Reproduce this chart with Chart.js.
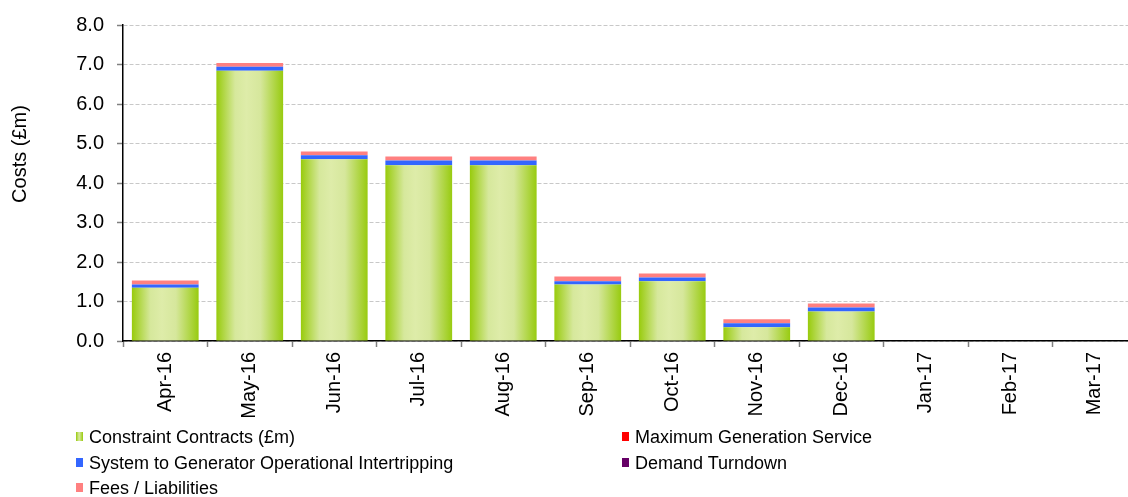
<!DOCTYPE html>
<html>
<head>
<meta charset="utf-8">
<script src="https://cdn.jsdelivr.net/npm/chart.js@4/dist/chart.umd.min.js"></script>
<style>
  html, body { margin: 0; padding: 0; background: #fff; overflow: hidden; width: 1128px; height: 497px; }
  #wrap { position: relative; width: 1128px; height: 497px; overflow: hidden; }
  canvas { position: absolute; left: 0; top: 0; }
  #legend { position: absolute; left: 0; top: 424px; width: 1128px; font-family: Arial, "Liberation Sans", sans-serif; font-size: 18px; color: #000; }
  .item { position: absolute; height: 26px; line-height: 26px; white-space: nowrap; }
  .mk { position: absolute; left: 0; top: 8px; width: 7px; height: 9px; }
  .tx { position: absolute; left: 13px; top: 0; }
</style>
</head>
<body>
<div id="wrap">
  <canvas id="c" width="1140" height="430"></canvas>
  <div id="legend"></div>
</div>
<script>
const categories = ['Apr-16','May-16','Jun-16','Jul-16','Aug-16','Sep-16','Oct-16','Nov-16','Dec-16','Jan-17','Feb-17','Mar-17'];
const constraintContracts = [1.35, 6.84, 4.60, 4.45, 4.45, 1.43, 1.51, 0.35, 0.75, null, null, null];
const maxGenService      = [0, 0, 0, 0, 0, 0, 0, 0, 0, null, null, null];
const sgoi               = [0.08, 0.10, 0.10, 0.12, 0.12, 0.08, 0.10, 0.10, 0.10, null, null, null];
const demandTurndown     = [0, 0, 0, 0, 0, 0, 0, 0, 0, null, null, null];
const feesLiabilities    = [0.10, 0.10, 0.10, 0.10, 0.10, 0.12, 0.10, 0.10, 0.10, null, null, null];
const yTicks = [0, 1, 2, 3, 4, 5, 6, 7, 8];
const seriesNames = ['Constraint Contracts (£m)', 'Maximum Generation Service', 'System to Generator Operational Intertripping', 'Demand Turndown', 'Fees / Liabilities'];

const FONT = 'Arial, "Liberation Sans", sans-serif';
const BAR_PCT = 0.79;
function greenFill(ctx) {
  const chart = ctx.chart;
  if (!chart.chartArea || ctx.dataIndex === undefined) return '#9ccc1a';
  const xs = chart.scales.x;
  const cx = xs.getPixelForValue(ctx.dataIndex);
  const w = (xs.width / categories.length) * BAR_PCT;
  const g = chart.ctx.createLinearGradient(cx - w / 2, 0, cx + w / 2, 0);
  g.addColorStop(0, '#98cb0c');
  g.addColorStop(0.28, '#d6e89c');
  g.addColorStop(0.45, '#deeca9');
  g.addColorStop(0.66, '#d6e79c');
  g.addColorStop(1, '#98cb10');
  return g;
}

const yTitlePlugin = {
  id: 'yTitle',
  afterDraw(chart) {
    const c = chart.ctx;
    c.save();
    c.translate(20, 154);
    c.rotate(-Math.PI / 2);
    c.font = '20px ' + FONT;
    c.fillStyle = '#000';
    c.textAlign = 'center';
    c.textBaseline = 'middle';
    c.fillText('Costs (£m)', 0, 0);
    c.restore();
  }
};

const ds = (label, data, color) => ({
  label, data, backgroundColor: color, borderWidth: 0,
  categoryPercentage: 1.0, barPercentage: BAR_PCT, stack: 's'
});

new Chart(document.getElementById('c'), {
  type: 'bar',
  data: {
    labels: categories,
    datasets: [
      ds(seriesNames[0], constraintContracts, greenFill),
      ds(seriesNames[1], maxGenService, '#ff0000'),
      ds(seriesNames[2], sgoi, '#3366ff'),
      ds(seriesNames[3], demandTurndown, '#660066'),
      ds(seriesNames[4], feesLiabilities, '#ff8080')
    ]
  },
  options: {
    responsive: false,
    devicePixelRatio: 1,
    animation: false,
    layout: { padding: { top: 23, right: 3, left: 0, bottom: 0 } },
    plugins: { legend: { display: false }, tooltip: { enabled: false }, title: { display: false } },
    scales: {
      x: {
        stacked: true,
        offset: true,
        grid: { display: true, drawOnChartArea: false, offset: true, tickLength: 6, tickColor: '#808080', tickWidth: 1.5 },
        border: { display: true, color: '#000', width: 1.5 },
        ticks: {
          minRotation: 90, maxRotation: 90, padding: 5, color: '#000',
          font: { family: FONT, size: 20 }
        },
        afterFit(scale) { scale.height = 89; }
      },
      y: {
        stacked: true,
        min: 0, max: 8,
        afterBuildTicks(scale) { scale.ticks = yTicks.map(v => ({ value: v })); },
        grid: { color: '#c8c8c8', lineWidth: 1, tickLength: 6, tickColor: '#808080', tickWidth: 1.5, tickBorderDash: [] },
        border: { display: true, color: '#000', width: 1.5, dash: [4, 2] },
        ticks: {
          padding: 13, color: '#000',
          font: { family: FONT, size: 20 },
          callback: v => Number(v).toFixed(1)
        },
        afterFit(scale) { scale.width = 123; }
      }
    }
  },
  plugins: [yTitlePlugin]
});

// HTML legend (two columns, row-major)
const legendColors = [
  'linear-gradient(to right, #98cb0c 0%, #d9e9a3 45%, #98cb0c 100%)',
  '#ff0000', '#3366ff', '#660066', '#ff8080'
];
const colX = [76, 622];
const rowY = [0, 25.5, 51];
const leg = document.getElementById('legend');
seriesNames.forEach((name, i) => {
  const col = i % 2, row = Math.floor(i / 2);
  const it = document.createElement('div');
  it.className = 'item';
  it.style.left = colX[col] + 'px';
  it.style.top = rowY[row] + 'px';
  const mk = document.createElement('span');
  mk.className = 'mk';
  mk.style.background = legendColors[i];
  const tx = document.createElement('span');
  tx.className = 'tx';
  tx.textContent = name;
  it.appendChild(mk); it.appendChild(tx);
  leg.appendChild(it);
});
</script>
</body>
</html>
